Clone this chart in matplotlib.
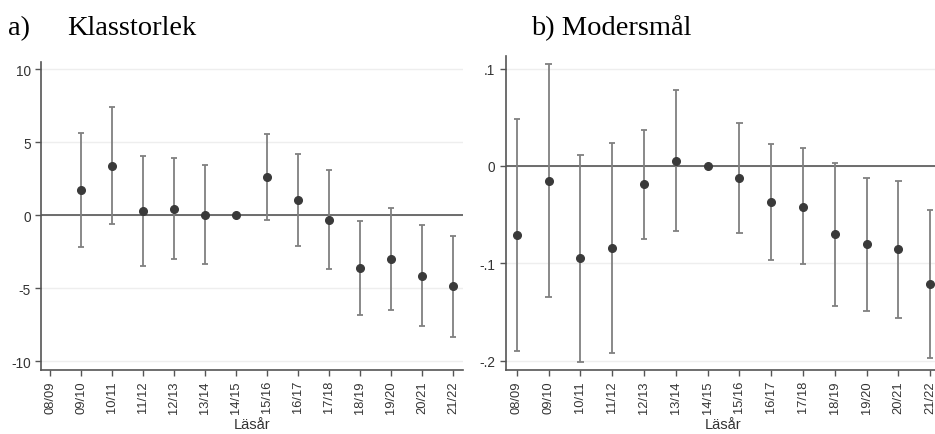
import numpy as np
import matplotlib.pyplot as plt

# Läsår (school years)
years = ['08/09', '09/10', '10/11', '11/12', '12/13', '13/14', '14/15',
         '15/16', '16/17', '17/18', '18/19', '19/20', '20/21', '21/22']

# a) Klasstorlek - estimates and 95% CI (08/09 missing, 14/15 is the reference year)
a_est = [np.nan, 1.71, 3.40, 0.30, 0.43, 0.05, 0.0,
         2.63, 1.03, -0.30, -3.61, -3.01, -4.13, -4.84]
a_hi = [np.nan, 5.64, 7.42, 4.09, 3.93, 3.42, np.nan,
        5.57, 4.20, 3.11, -0.39, 0.48, -0.64, -1.39]
a_lo = [np.nan, -2.19, -0.62, -3.47, -3.01, -3.31, np.nan,
        -0.30, -2.12, -3.68, -6.83, -6.51, -7.56, -8.31]

# b) Modersmål
b_est = [-0.0711, -0.0154, -0.0947, -0.0841, -0.0188, 0.0055, 0.0,
         -0.0123, -0.0373, -0.0417, -0.0704, -0.0803, -0.0855, -0.1214]
b_hi = [0.0482, 0.1046, 0.0113, 0.0239, 0.0373, 0.0779, np.nan,
        0.0441, 0.0222, 0.0181, 0.0027, -0.0120, -0.0150, -0.0455]
b_lo = [-0.1905, -0.1350, -0.2010, -0.1920, -0.0749, -0.0670, np.nan,
        -0.0684, -0.0968, -0.1012, -0.1436, -0.1487, -0.1562, -0.1973]

a_ticks = [-10, -5, 0, 5, 10]
a_ticklabels = ['-10', '-5', '0', '5', '10']
b_ticks = [-0.2, -0.1, 0, 0.1]
b_ticklabels = ['-.2', '-.1', '0', '.1']

plt.rcParams['font.family'] = ['Liberation Sans', 'DejaVu Sans']

fig = plt.figure(figsize=(9.35, 4.35), dpi=100)
ax1 = fig.add_axes([0.0439, 0.1478, 0.4513, 0.7081])
ax2 = fig.add_axes([0.5409, 0.1478, 0.4658, 0.7219])


def draw_panel(ax, est, lo, hi, ticks, ticklabels, ylim, xlim):
    x = np.arange(len(years))
    est = np.array(est)
    lo = np.array(lo)
    hi = np.array(hi)
    ax.axhline(0, color='#555555', lw=1.2, zorder=1)
    ax.vlines(x, lo, hi, color='#808080', lw=1.3, zorder=2)
    ax.hlines(lo, x - 0.1, x + 0.1, color='#808080', lw=1.3, zorder=2)
    ax.hlines(hi, x - 0.1, x + 0.1, color='#808080', lw=1.3, zorder=2)
    ax.plot(x, est, 'o', color='#3a3a3a', ms=5.5, zorder=3)
    ax.set_xlim(*xlim)
    ax.set_ylim(*ylim)
    ax.set_xticks(x)
    ax.set_xticklabels(years, rotation=90, fontsize=9.3)
    ax.set_yticks(ticks)
    ax.set_yticklabels(ticklabels, fontsize=9.8)
    ax.yaxis.grid(True, color='#eeeeee', lw=1)
    ax.set_axisbelow(True)
    for s in ['top', 'right']:
        ax.spines[s].set_visible(False)
    for s in ['left', 'bottom']:
        ax.spines[s].set_color('#555555')
        ax.spines[s].set_linewidth(1.2)
    ax.tick_params(colors='#333333', length=4, width=1, direction='out')
    ax.tick_params(axis='both', color='#555555')
    ax.set_xlabel('Läsår', fontsize=10.5, color='#333333', labelpad=3)


draw_panel(ax1, a_est, a_lo, a_hi, a_ticks, a_ticklabels, (-10.58, 10.52), (-0.29, 13.32))
draw_panel(ax2, b_est, b_lo, b_hi, b_ticks, b_ticklabels, (-0.2094, 0.1134), (-0.35, 13.35))

serif = ['Liberation Serif', 'DejaVu Serif']
fig.text(8 / 935, 1 - 35 / 435, 'a)', fontsize=20.5, family=serif, va='baseline')
fig.text(67 / 935, 1 - 35 / 435, 'Klasstorlek', fontsize=20.5, family=serif, va='baseline')
fig.text(531 / 935, 1 - 35 / 435, 'b) Modersmål', fontsize=20.5, family=serif, va='baseline')

fig.savefig('out.png', dpi=100)
